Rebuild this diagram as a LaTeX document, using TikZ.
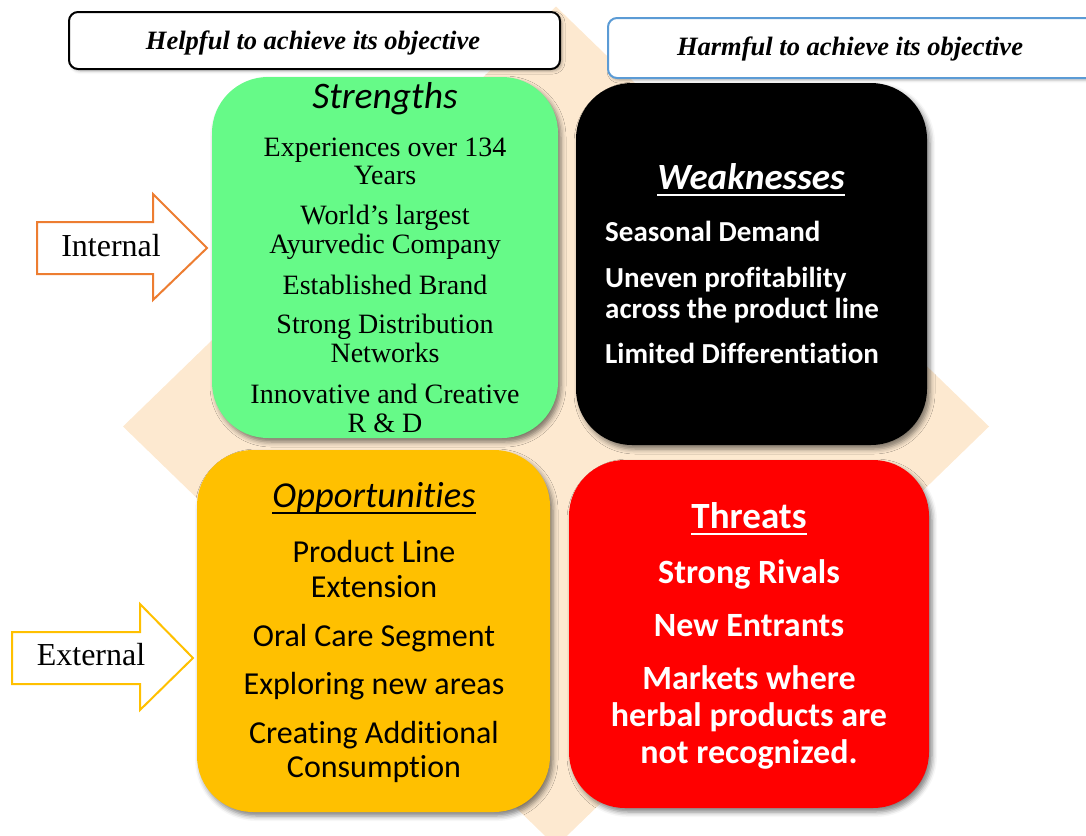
\documentclass[tikz,border=0pt]{standalone}
\usepackage{fontspec}
\setmainfont{Liberation Serif}
\newfontfamily\calib[Ligatures=NoCommon]{Carlito}
\usetikzlibrary{shadows.blur,calc}
\definecolor{sgreen}{RGB}{102,250,136}
\definecolor{ogold}{RGB}{255,192,0}
\definecolor{tred}{RGB}{255,0,0}
\definecolor{peach}{RGB}{253,233,208}
\definecolor{arrorange}{RGB}{237,125,49}
\definecolor{hblue}{RGB}{91,155,213}
\begin{document}
\begin{tikzpicture}[x=1pt,y=-1pt,
  quad/.style={draw=none, rounded corners=56pt, inner sep=0pt,
    blur shadow={shadow xshift=3pt,shadow yshift=-4pt,shadow blur radius=5pt,shadow opacity=50}},
  hdr/.style={rounded corners=9pt, line width=2pt, fill=white, inner sep=0pt,
    blur shadow={shadow xshift=2pt,shadow yshift=-2pt,shadow blur radius=3pt,shadow opacity=30}},
  serline/.style={anchor=base, inner sep=0pt, font=\fontsize{28}{28}\selectfont},
  head/.style={anchor=base, inner sep=0pt, font=\calib\fontsize{36}{36}\selectfont},
  wline/.style={anchor=base west, inner sep=0pt, text=white, font=\calib\bfseries\fontsize{29}{32}\selectfont},
  oline/.style={anchor=base, inner sep=0pt, font=\calib\fontsize{32}{36}\selectfont},
  tline/.style={anchor=base, inner sep=0pt, text=white, font=\calib\bfseries\fontsize{34}{37}\selectfont},
  arrowbox/.style={line width=2pt, fill=white, line join=miter},
  arrlabel/.style={anchor=base, inner sep=0pt, font=\fontsize{32}{32}\selectfont}
]
\useasboundingbox (0,0) rectangle (1086,835);
\clip (0,0) rectangle (1086,835);

% background diamond
\fill[peach] (123,426.5) coordinate (dl) -- (556,6.5) coordinate (dt) -- (989,426.5) coordinate (dr) -- (556,846.5) coordinate (db) -- cycle;

% quadrants
\node[quad, fill=sgreen, minimum width=346pt, minimum height=361pt] (S) at (385,257.5) {};
\node[quad, fill=black, minimum width=351pt, minimum height=362pt] (W) at (751.5,264) {};
\node[quad, fill=ogold, minimum width=353pt, minimum height=362pt] (O) at (373.5,631) {};
\node[quad, fill=tred, minimum width=360pt, minimum height=348pt] (T) at (749,634) {};

% header boxes
\node[hdr, draw=black, minimum width=491pt, minimum height=57pt] (help) at (314.5,40.5) {};
\node[hdr, draw=hblue, minimum width=500pt, minimum height=60pt, anchor=west] (harm) at (607,48) {};
\node[anchor=base, inner sep=0pt, font=\bfseries\itshape\fontsize{26.5}{26.5}\selectfont] (helpt) at (313,49) {Helpful to achieve its objective};
\node[anchor=base, inner sep=0pt, font=\bfseries\itshape\fontsize{26.5}{26.5}\selectfont] (harmt) at (850,55) {Harmful to achieve its objective};

% strengths
\node[head, font=\calib\itshape\fontsize{37.5}{37.5}\selectfont] (sh) at (385,108) {Strengths};
\node[serline] (s1) at (385,156) {Experiences over 134};
\node[serline] (s2) at (385,184) {Years};
\node[serline] (s3) at (385,224) {World’s largest};
\node[serline] (s4) at (385,253) {Ayurvedic Company};
\node[serline] (s5) at (385,294) {Established Brand};
\node[serline] (s6) at (385,333) {Strong Distribution};
\node[serline] (s7) at (385,362) {Networks};
\node[serline] (s8) at (385,403) {Innovative and Creative};
\node[serline] (s9) at (385,432) {R \& D};

% weaknesses
\node[head, text=white, font=\calib\bfseries\itshape\fontsize{37}{37}\selectfont] (wh) at (751,189) {Weaknesses};
\draw[white, line width=2pt] ($(wh.base west)+(0,6)$) -- ($(wh.base east)+(0,6)$);
\node[wline] (w1) at (605,241) {Seasonal Demand};
\node[wline] (w2) at (605,287) {Uneven profitability};
\node[wline] (w3) at (605,318) {across the product line};
\node[wline] (w4) at (605,363) {Limited Differentiation};

% opportunities
\node[head, font=\calib\itshape\fontsize{36.5}{36.5}\selectfont] (oh) at (374,507) {Opportunities};
\draw[black, line width=1.5pt] ($(oh.base west)+(0,6)$) -- ($(oh.base east)+(0,6)$);
\node[oline] (o1) at (374,562) {Product Line};
\node[oline] (o2) at (374,597) {Extension};
\node[oline] (o3) at (374,646) {Oral Care Segment};
\node[oline] (o4) at (374,694) {Exploring new areas};
\node[oline] (o5) at (374,743) {Creating Additional};
\node[oline] (o6) at (374,777) {Consumption};

% threats
\node[head, text=white, font=\calib\bfseries\fontsize{37}{37}\selectfont] (th) at (749,528) {Threats};
\draw[white, line width=2pt] ($(th.base west)+(0,6)$) -- ($(th.base east)+(0,6)$);
\node[tline] (t1) at (749,583) {Strong Rivals};
\node[tline] (t2) at (749,636) {New Entrants};
\node[tline] (t3) at (749,689) {Markets where};
\node[tline] (t4) at (749,726) {herbal products are};
\node[tline] (t5) at (749,763) {not recognized.};

% side arrows
\draw[arrowbox, draw=arrorange] (37,222) -- (153,222) -- (153,194) -- (207,248) -- (153,300) -- (153,274) -- (37,274) -- cycle;
\node[arrlabel] (int) at (111,256) {Internal};
\draw[arrowbox, draw=ogold] (12,632) -- (140,632) -- (140,604) -- (193,658) -- (140,710) -- (140,684) -- (12,684) -- cycle;
\node[arrlabel] (ext) at (91,665) {External};
\end{tikzpicture}
\end{document}
